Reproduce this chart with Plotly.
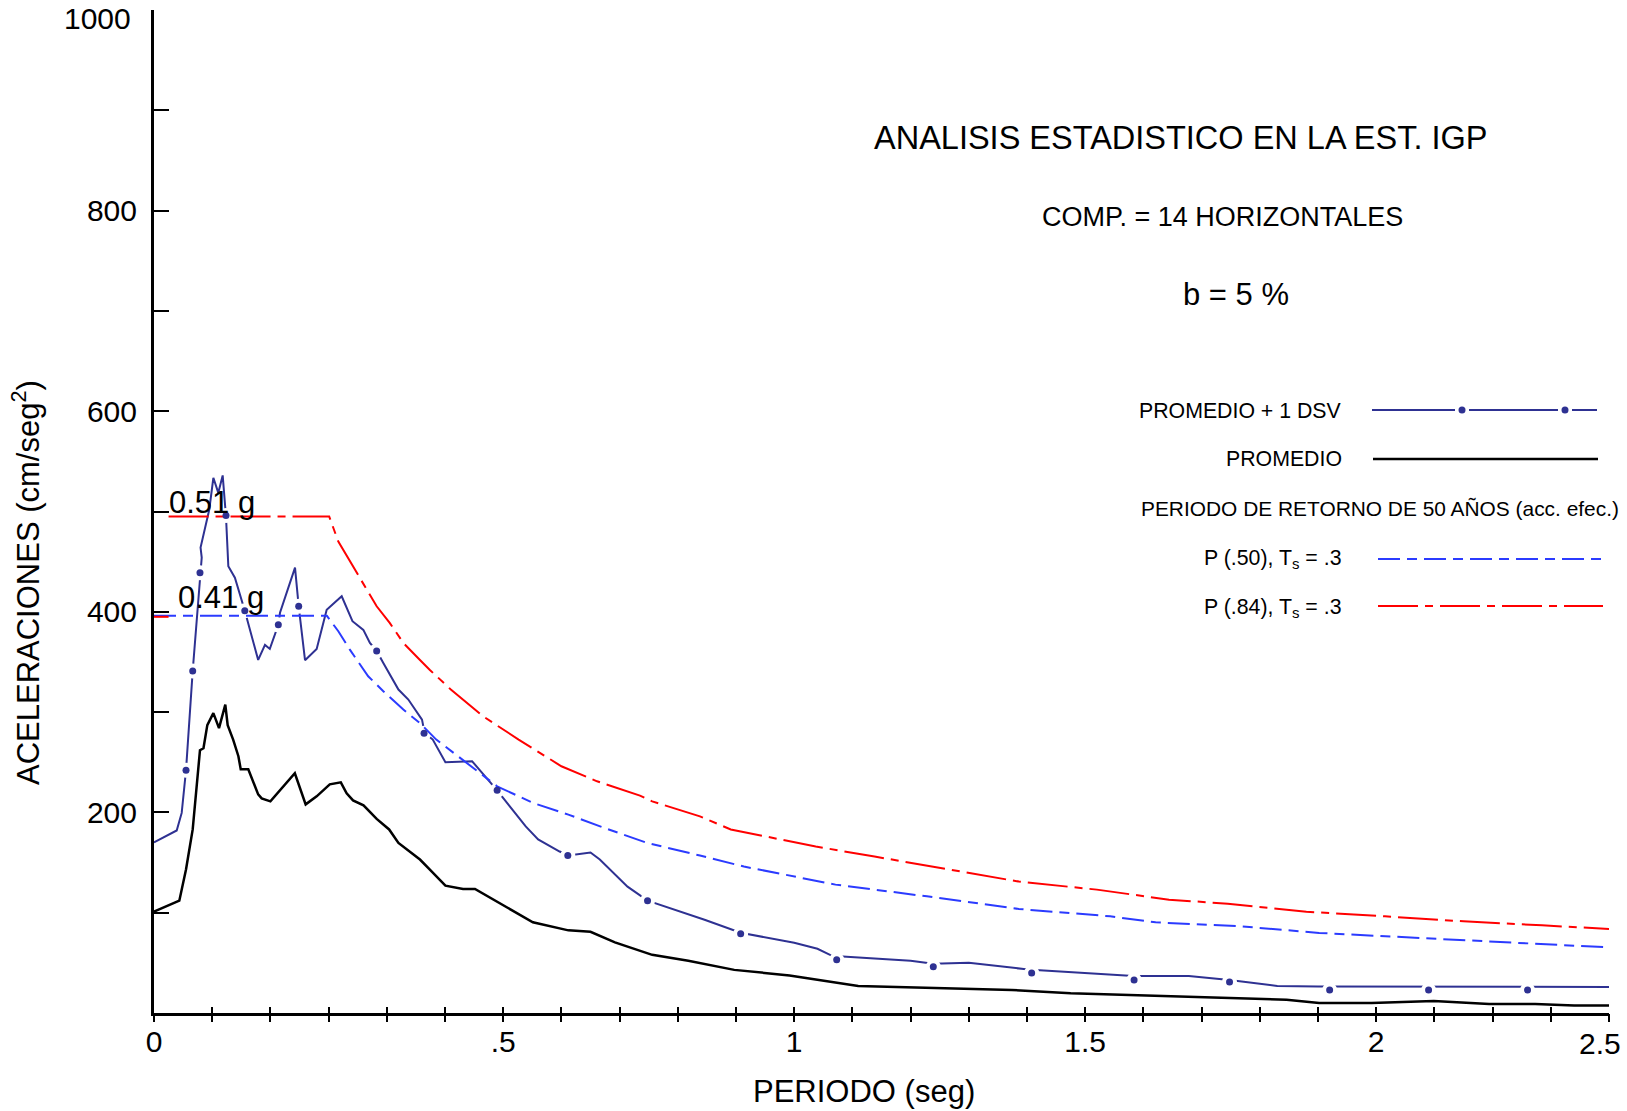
import plotly.graph_objects as go

# ---------------- data ----------------
# PROMEDIO (black)
prom_t = [0, 0.0435, 0.055, 0.0665, 0.079, 0.085, 0.0916, 0.102, 0.1117, 0.1225, 0.1266, 0.136, 0.145, 0.149,
          0.162, 0.179, 0.185, 0.2, 0.242, 0.2606, 0.2795, 0.302, 0.321, 0.331, 0.342, 0.36, 0.3826, 0.404,
          0.42, 0.457, 0.474, 0.5007, 0.531, 0.5515, 0.651, 0.712, 0.75, 0.792, 0.856, 0.918, 0.997, 1.092,
          1.21, 1.3955, 1.474, 1.575, 1.699, 1.834, 1.946, 2.002, 2.092, 2.199, 2.294, 2.373, 2.44, 2.5]
prom_a = [101, 112, 143, 183, 262, 264, 287, 299, 284, 307.5, 287, 272.6, 256, 243,
          243, 218, 214, 211, 239, 208, 216, 228, 230, 219, 212, 207, 193.5, 183,
          169.6, 153, 143, 127, 123.7, 123.7, 90.4, 82.4, 81, 70.4, 58, 52, 43, 37.5,
          27, 24, 23, 19.6, 17.3, 15.3, 13.3, 10, 10, 12, 9, 9, 7.6, 7.6]

# PROMEDIO + 1 DSV (navy)
dsv_t = [0, 0.039, 0.0476, 0.055, 0.0665, 0.079, 0.082, 0.080, 0.095, 0.102, 0.1105, 0.118, 0.1237, 0.1277,
         0.139, 0.156, 0.179, 0.1907, 0.199, 0.2136, 0.2165, 0.2423, 0.2486, 0.2595, 0.2795, 0.2967, 0.3225,
         0.341, 0.3597, 0.371, 0.3826, 0.394, 0.42, 0.437, 0.4605, 0.465, 0.479, 0.5007, 0.5466, 0.5896,
         0.6387, 0.66, 0.697, 0.712, 0.75, 0.766, 0.8136, 0.848, 0.946, 1.008, 1.10, 1.14, 1.165, 1.19,
         1.30, 1.339, 1.40, 1.508, 1.60, 1.683, 1.70, 1.778, 1.848, 1.93, 2.0, 2.19, 2.36, 2.5]
dsv_a = [170, 182, 199.5, 242, 341, 439, 454, 464, 502, 533.6, 518.6, 536, 495, 445.5,
         434, 401, 352, 367, 363, 387, 399, 444, 405.5, 351.7, 363, 402, 415.5,
         390.6, 382, 369, 361, 349, 322.5, 312.5, 292.5, 279, 272.6, 250, 251, 222,
         186, 173, 161, 157, 160, 153, 126, 112, 93, 80, 70, 64, 57, 56,
         52, 49, 50, 43, 39.5, 37, 37, 37, 33, 27, 26.5, 26.5, 26.5, 26]
dot_t = [0.055, 0.0665, 0.079, 0.1237, 0.156, 0.2136, 0.2486, 0.3826, 0.464, 0.5896, 0.711, 0.848,
         1.008, 1.173, 1.339, 1.508, 1.684, 1.848, 2.02, 2.19, 2.36]
dot_a = [242, 341, 439, 496, 401, 387, 405.5, 361, 279, 222, 157, 112,
         79, 53, 46, 40, 33, 31, 23, 23, 23]

# P(.50), Ts = .3 (blue)
p50_t = [0, 0.297, 0.3167, 0.3368, 0.368, 0.394, 0.4284, 0.457, 0.485, 0.5896, 0.651, 0.712, 0.774,
         0.847, 0.938, 1.0136, 1.171, 1.328, 1.486, 1.643, 1.721, 1.868, 2.002, 2.171, 2.34, 2.5]
p50_a = [396, 396, 380.6, 362, 335.7, 320.8, 302.5, 289, 272.6, 226, 209.5, 197.8, 184.5,
         169.6, 157, 146, 128, 116.3, 103.7, 96.4, 90.4, 86.4, 79.8, 74.8, 69.8, 65.4]

# P(.84), Ts = .3 (red)
p84_t = [0, 0.025, None, 0.025, 0.301, 0.3167, 0.325, 0.348, 0.3826, 0.405, 0.4284, 0.457, 0.474, 0.51,
         0.565, 0.6265, 0.7, 0.7613, 0.835, 0.856, 0.938, 0.991, 1.137, 1.238, 1.35, 1.486, 1.62,
         1.744, 1.845, 1.98, 2.115, 2.25, 2.385, 2.5]
p84_a = [395, 395, None, 495, 495, 470, 462, 439, 405.5, 389, 369, 352, 342, 322.5,
         296, 272.6, 246, 231, 216.7, 211, 196, 183, 166, 156, 144.6, 131, 123,
         113, 109, 101, 96.4, 91.4, 87.4, 83.8]

# axis ticks as printed on the reference (labels sit on these tick marks)
x_label_vals = [0, 0.6, 1.1, 1.6, 2.1]
x_label_text = ["0", ".5", "1", "1.5", "2"]
x_end_label = "2.5"          # printed at the right end of the axis
x_tick_step = 0.1
y_label_vals = [200, 400, 600, 800]
y_label_text = ["200", "400", "600", "800"]
y_top_label = "1000"         # printed at the top of the axis
y_tick_step = 100

# ---------------- styling ----------------
NAVY = "#2e3192"
BLUE = "#2b3bff"
RED = "#ff0000"
FONT = "Liberation Sans, Arial, sans-serif"
RED_DASH = "40px,7px,8px,7px"
BLUE_DASH = "22px,7px,10px,7px"

W, H = 1627, 1111
L, R, T, B = 154, 18, 10, 98


def px(xp):
    return (xp - L) / (W - L - R)


def py(yp):
    return (H - B - yp) / (H - T - B)


fig = go.Figure()

# DSV line with white gaps around dots
fig.add_trace(go.Scatter(x=dsv_t, y=dsv_a, mode="lines", line=dict(color=NAVY, width=2), hoverinfo="skip"))
fig.add_trace(go.Scatter(x=dot_t, y=dot_a, mode="markers",
                         marker=dict(color="white", size=15, line=dict(width=0)), hoverinfo="skip"))
fig.add_trace(go.Scatter(x=prom_t, y=prom_a, mode="lines", line=dict(color="black", width=2.5)))
fig.add_trace(go.Scatter(x=p50_t, y=p50_a, mode="lines", line=dict(color=BLUE, width=2, dash=BLUE_DASH)))
fig.add_trace(go.Scatter(x=p84_t, y=p84_a, mode="lines", connectgaps=False,
                         line=dict(color=RED, width=2, dash=RED_DASH)))
fig.add_trace(go.Scatter(x=dot_t, y=dot_a, mode="markers", marker=dict(color=NAVY, size=7)))

# extra axis for the outward half of the crossing x ticks
fig.add_trace(go.Scatter(x=[0, 2.5], y=[0, 0], mode="lines", line=dict(width=0), xaxis="x2",
                         hoverinfo="skip", opacity=0))

fig.update_layout(
    width=W, height=H,
    margin=dict(l=L, r=R, t=T, b=B, autoexpand=False),
    paper_bgcolor="white", plot_bgcolor="white",
    showlegend=False,
    font=dict(family=FONT, color="black"),
    xaxis=dict(range=[0, 2.5], showgrid=False, zeroline=False, showline=True, linecolor="black",
               linewidth=3, ticks="inside", ticklen=6, tickwidth=2, tickcolor="black",
               tickmode="array", tickvals=x_label_vals, ticktext=x_label_text,
               minor=dict(ticks="inside", ticklen=6, tickwidth=2, tickcolor="black",
                          tick0=0, dtick=x_tick_step, showgrid=False),
               tickfont=dict(size=30, family=FONT), ticklabelstandoff=0,
               ticklabeloverflow="allow", automargin=False),
    xaxis2=dict(range=[0, 2.5], overlaying="x", anchor="y", side="bottom", showgrid=False,
                zeroline=False, showline=False, ticks="outside", ticklen=8, tickwidth=2,
                tickcolor="black", tick0=0, dtick=x_tick_step, showticklabels=False,
                automargin=False),
    yaxis=dict(range=[0, 1000], showgrid=False, zeroline=False, showline=True, linecolor="black",
               linewidth=3, ticks="inside", ticklen=15, tickwidth=2, tickcolor="black",
               tickmode="array", tickvals=y_label_vals, ticktext=y_label_text,
               minor=dict(ticks="inside", ticklen=15, tickwidth=2, tickcolor="black",
                          tick0=0, dtick=y_tick_step, showgrid=False),
               tickfont=dict(size=30, family=FONT), ticklabelstandoff=8,
               ticklabeloverflow="allow", automargin=False),
)

ann = []


def text(x, y, s, size, xanchor="center", yanchor="middle", angle=0):
    ann.append(dict(x=px(x), y=py(y), xref="paper", yref="paper", text=s, showarrow=False,
                    xanchor=xanchor, yanchor=yanchor, textangle=angle,
                    font=dict(size=size, family=FONT, color="black")))


text(1180, 138, "ANALISIS ESTADISTICO EN LA EST. IGP", 32.5)
text(1222, 217, "COMP. = 14 HORIZONTALES", 27)
text(1236, 294, "b = 5 %", 31)
text(1344, 411, "PROMEDIO + 1 DSV", 21.3, xanchor="right")
text(1344, 459, "PROMEDIO", 21.3, xanchor="right")
text(1139, 508, "PERIODO DE RETORNO DE 50 AÑOS (acc. efec.)", 20.9, xanchor="left")
text(1344, 559, "P (.50), T<sub>s</sub> = .3", 21.3, xanchor="right")
text(1344, 608, "P (.84), T<sub>s</sub> = .3", 21.3, xanchor="right")
text(167, 502, "0.51 g", 31, xanchor="left")
text(176, 598, "0.41 g", 31, xanchor="left")
text(26, 583, "ACELERACIONES (cm/seg<sup>2</sup>)", 31, angle=-90)
text(864, 1091, "PERIODO (seg)", 31)
text(1600, 1043, x_end_label, 30)
text(133, 18, y_top_label, 30, xanchor="right")

shapes = []


def seg(x0, x1, y, color, width=2, dash="solid"):
    shapes.append(dict(type="line", xref="paper", yref="paper", x0=px(x0), x1=px(x1), y0=py(y), y1=py(y),
                       line=dict(color=color, width=width, dash=dash)))


def dot(x, y, r, color):
    shapes.append(dict(type="circle", xref="paper", yref="paper", x0=px(x - r), x1=px(x + r),
                       y0=py(y + r), y1=py(y - r), fillcolor=color, line=dict(width=0)))


seg(1372, 1455, 410, NAVY)
seg(1469, 1558, 410, NAVY)
seg(1572, 1597, 410, NAVY)
dot(1462, 410, 3.5, NAVY)
dot(1565, 410, 3.5, NAVY)
seg(1373, 1598, 459, "black", 2.5)
seg(1378, 1603, 559, BLUE, 2, BLUE_DASH)
seg(1378, 1603, 606, RED, 2, RED_DASH)

fig.update_layout(annotations=ann, shapes=shapes)
fig.write_html("out.html")
